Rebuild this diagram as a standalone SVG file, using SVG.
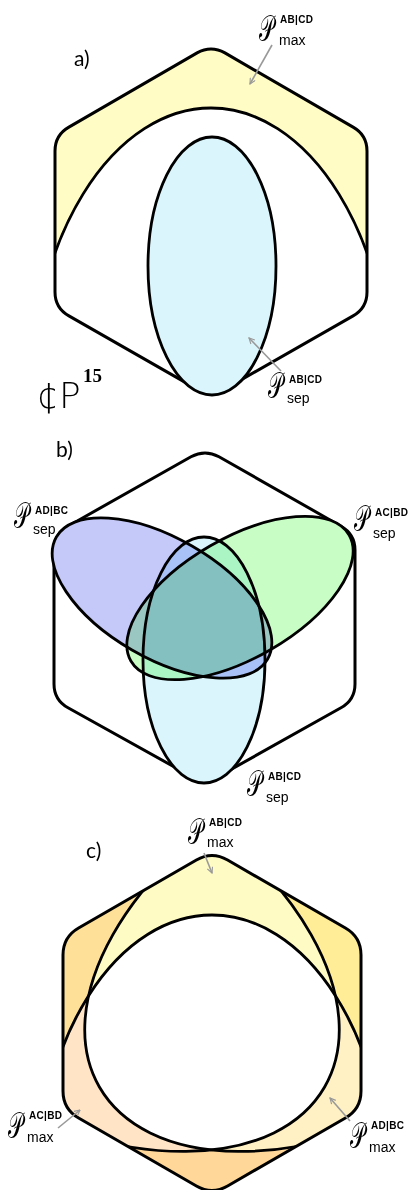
<svg xmlns="http://www.w3.org/2000/svg" width="411" height="1190" viewBox="0 0 411 1190">
<style>
.hex{fill:none;stroke:#000;stroke-width:3;stroke-linejoin:round}
.hexbg{fill:#fff;stroke:none}
.ln{fill:none;stroke:#000;stroke-width:2.8}
.mul{mix-blend-mode:multiply}
.P{font-family:"DejaVu Serif","DejaVu Sans",serif;font-size:36px;fill:#000}
.sup{font-family:"Liberation Sans",Arial,sans-serif;font-size:10px;font-weight:bold;fill:#000;letter-spacing:0.3px}
.sub{font-family:"Liberation Sans",Arial,sans-serif;font-size:14px;fill:#000}
.lab{font-family:"Lato","Liberation Sans",sans-serif;font-size:21px;fill:#000}
.arr{fill:none;stroke:#999;stroke-width:1.6;marker-end:url(#ah)}
</style>
<defs>
<marker id="ah" viewBox="0 0 10 10" refX="9" refY="5" markerWidth="7" markerHeight="7" orient="auto" markerUnits="userSpaceOnUse">
<path d="M1,1 L9,5 L1,9" fill="none" stroke="#999" stroke-width="1.6"/>
</marker>
<path id="hexA" d="M197.1,52.9 Q211,45 224.9,52.9 L353.1,127.1 Q367,135 367,151 L367,292 Q367,308 353.1,315.9 L224.9,389.1 Q211,397 197.1,389.1 L68.9,315.9 Q55,308 55,292 L55,151 Q55,135 68.9,127.1 Z"/>
<path id="hexB" d="M191,456.8 Q205,449 219,456.8 L341,526.2 Q355,534 355,550 L355,684 Q355,700 341,707.8 L219,776.2 Q205,784 191,776.2 L68,707.8 Q54,700 54,684 L54,550 Q54,534 68,526.2 Z"/>
<path id="hexC" d="M196.4,860 Q212,851 227.6,860 L345.4,928 Q361,937 361,955 L361,1091 Q361,1109 345.4,1118 L227.6,1186 Q212,1195 196.4,1186 L78.6,1118 Q63,1109 63,1091 L63,955 Q63,937 78.6,928 Z"/>
<clipPath id="clipA"><use href="#hexA"/></clipPath>
<clipPath id="clipC"><use href="#hexC"/></clipPath>
</defs>

<g id="panel-a">
  <text class="lab" x="74" y="66">a)</text>
  <g id="a-hexagon">
    <use href="#hexA" class="hexbg"/>
  </g>
  <g id="a-pmax" clip-path="url(#clipA)">
    <path fill="#FFFCC6" fill-rule="evenodd" d="M-50,0 H460 V420 H-50 Z M30,402 A181,294 0 1,0 392,402 A181,294 0 1,0 30,402 Z"/>
    <ellipse class="ln" cx="211" cy="402" rx="181" ry="294"/>
  </g>
  <use href="#hexA" class="hex"/>
  <g id="a-psep">
    <ellipse cx="212" cy="266" rx="64" ry="129" fill="#DAF6FC" stroke="#000" stroke-width="2.8"/>
  </g>
  <g id="a-label-max">
    <text class="P" transform="matrix(0.58 0 0 1 259 41)">𝒫</text>
    <text class="sup" x="280" y="23">AB|CD</text>
    <text class="sub" x="279" y="45">max</text>
  </g>
  <g id="a-label-sep">
    <text class="P" transform="matrix(0.58 0 0 1 268 398)">𝒫</text>
    <text class="sup" x="289" y="383">AB|CD</text>
    <text class="sub" x="287" y="403">sep</text>
  </g>
  <g id="a-cp15">
    <text x="36" y="408" style="font-family:'DejaVu Sans','Liberation Sans',sans-serif;font-size:36px;font-weight:200">¢P</text>
    <text x="83" y="382" style="font-family:'Liberation Serif',serif;font-size:19px;font-weight:bold">15</text>
  </g>
</g>

<g id="panel-b">
  <text class="lab" x="56" y="457">b)</text>
  <g id="b-hexagon">
    <use href="#hexB" class="hexbg"/>
    <use href="#hexB" class="hex"/>
  </g>
  <g id="b-fills" style="isolation:isolate">
    <ellipse class="mul" cx="204" cy="660" rx="61" ry="123" fill="#DAF6FC"/>
    <ellipse class="mul" cx="162" cy="598" rx="122" ry="60" transform="rotate(30 162 598)" fill="#C5C9FA"/>
    <ellipse class="mul" cx="240" cy="598" rx="126" ry="60" transform="rotate(-30 240 598)" fill="#C8FDC6"/>
  </g>
  <g id="b-sep-ABCD"><ellipse class="ln" cx="204" cy="660" rx="61" ry="123"/></g>
  <g id="b-sep-ADBC"><ellipse class="ln" cx="162" cy="598" rx="122" ry="60" transform="rotate(30 162 598)"/></g>
  <g id="b-sep-ACBD"><ellipse class="ln" cx="240" cy="598" rx="126" ry="60" transform="rotate(-30 240 598)"/></g>
  <g id="b-label-ADBC">
    <text class="P" transform="matrix(0.58 0 0 1 14 528)">𝒫</text>
    <text class="sup" x="35" y="514">AD|BC</text>
    <text class="sub" x="33" y="534">sep</text>
  </g>
  <g id="b-label-ACBD">
    <text class="P" transform="matrix(0.58 0 0 1 354 531)">𝒫</text>
    <text class="sup" x="375" y="516">AC|BD</text>
    <text class="sub" x="373" y="538">sep</text>
  </g>
  <g id="b-label-ABCD">
    <text class="P" transform="matrix(0.58 0 0 1 247 796)">𝒫</text>
    <text class="sup" x="268" y="780">AB|CD</text>
    <text class="sub" x="266" y="802">sep</text>
  </g>
</g>

<g id="panel-c">
  <text class="lab" x="86" y="858">c)</text>
  <g id="c-hexagon"><use href="#hexC" class="hexbg"/></g>
  <g id="c-fills" clip-path="url(#clipC)" style="isolation:isolate">
    <path class="mul" fill="#FFFBC4" fill-rule="evenodd" d="M-50,800 H460 V1200 H-50 Z M37,1192 A175,277 0 1,0 387,1192 A175,277 0 1,0 37,1192 Z"/>
    <path class="mul" fill="#FFE4C6" fill-rule="evenodd" d="M-50,800 H460 V1200 H-50 Z M99.4,1087 A300,177 -30 1,0 619,787 A300,177 -30 1,0 99.4,1087 Z"/>
    <path class="mul" fill="#FFF1C4" fill-rule="evenodd" d="M-50,800 H460 V1200 H-50 Z M-195,787 A300,177 30 1,0 324.6,1087 A300,177 30 1,0 -195,787 Z"/>
  </g>
  <g id="c-max-ABCD" clip-path="url(#clipC)"><ellipse class="ln" cx="212" cy="1192" rx="175" ry="277"/></g>
  <g id="c-max-ACBD" clip-path="url(#clipC)"><ellipse class="ln" cx="359.2" cy="937" rx="300" ry="177" transform="rotate(-30 359.2 937)"/></g>
  <g id="c-max-ADBC" clip-path="url(#clipC)"><ellipse class="ln" cx="64.8" cy="937" rx="300" ry="177" transform="rotate(30 64.8 937)"/></g>
  <use href="#hexC" class="hex"/>
  <g id="c-label-ABCD">
    <text class="P" transform="matrix(0.58 0 0 1 188 844)">𝒫</text>
    <text class="sup" x="209" y="826">AB|CD</text>
    <text class="sub" x="207" y="847">max</text>
  </g>
  <g id="c-label-ACBD">
    <text class="P" transform="matrix(0.58 0 0 1 8 1138)">𝒫</text>
    <text class="sup" x="29" y="1119">AC|BD</text>
    <text class="sub" x="27" y="1142">max</text>
  </g>
  <g id="c-label-ADBC">
    <text class="P" transform="matrix(0.58 0 0 1 350 1148)">𝒫</text>
    <text class="sup" x="371" y="1129">AD|BC</text>
    <text class="sub" x="369" y="1152">max</text>
  </g>
</g>

<g id="connectors">
  <path class="arr" d="M272,45 L250,84"/>
  <path class="arr" d="M281,371 L249,338"/>
  <path class="arr" d="M204,853 L212,873"/>
  <path class="arr" d="M58,1128 L80,1110"/>
  <path class="arr" d="M350,1121 L330,1098"/>
</g>
</svg>
